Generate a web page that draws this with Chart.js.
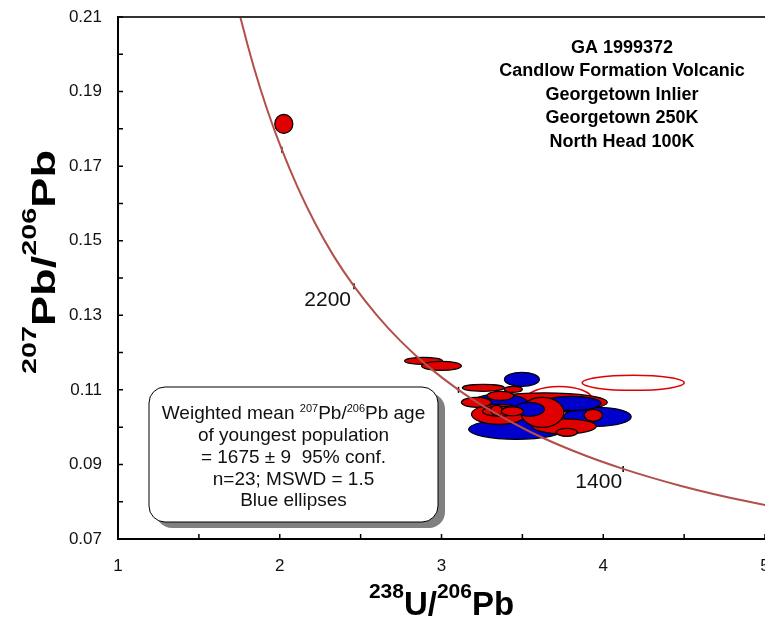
<!DOCTYPE html>
<html lang="en">
<head>
<meta charset="UTF-8">
<title>GA 1999372 Tera-Wasserburg plot</title>
<script src="https://cdn.jsdelivr.net/npm/chart.js"></script>
<style>
    body { margin: 0; background: #fff; }
    .wrap { width: 765px; height: 617px; position: relative; }
</style>
</head>
<body>
<div class="wrap"><canvas id="twChart"></canvas></div>
<script>
    // concordia curve, every 100 Ma (3000 Ma .. 1100 Ma)
    const concX = [1.687, 1.760, 1.838, 1.922, 2.013, 2.111, 2.217, 2.332, 2.459, 2.597,
                   2.749, 2.917, 3.105, 3.314, 3.550, 3.817, 4.123, 4.476, 4.888, 5.374];
    const concY = [0.2227, 0.2093, 0.1968, 0.1852, 0.1744, 0.1643, 0.1548, 0.1460, 0.1378, 0.1302,
                   0.1230, 0.1163, 0.1100, 0.1042, 0.0987, 0.0936, 0.0888, 0.0843, 0.0801, 0.0762];

    // age marks on the curve
    const markAge = [2600, 2200, 1800, 1400];
    const markX = [2.013, 2.459, 3.105, 4.123];
    const markY = [0.1744, 0.1378, 0.1100, 0.0888];

    // age labels
    const ageLabel = ['2200', '1400'];
    const ageLabelX = [2.296, 3.972];
    const ageLabelY = [0.1340, 0.0851];

    // error ellipses (centre, half-widths), in drawing order
    const ellGroup = ['open', 'open', 'blue', 'blue', 'red', 'blue', 'blue', 'red', 'red', 'red',
                      'red', 'blue', 'red', 'red', 'red', 'red', 'blue', 'red', 'red', 'red',
                      'red', 'red', 'red', 'red'];
    const ellX  = [3.728, 4.185, 3.463, 3.963, 3.636, 3.802, 3.358, 3.355, 3.759, 3.775,
                   3.623, 3.543, 3.938, 2.889, 3.000, 3.259, 3.497, 3.444, 3.364, 3.216,
                   3.358, 3.340, 3.438, 2.025];
    const ellY  = [0.10745, 0.11188, 0.09942, 0.10277, 0.10665, 0.10638, 0.10665, 0.10344, 0.10022, 0.09861,
                   0.10397, 0.10478, 0.10317, 0.11777, 0.11643, 0.11054, 0.11281, 0.11013, 0.10839, 0.10665,
                   0.10424, 0.10451, 0.10424, 0.18133];
    const ellSx = [0.204, 0.315, 0.296, 0.210, 0.389, 0.185, 0.173, 0.170, 0.198, 0.065,
                   0.133, 0.093, 0.056, 0.117, 0.123, 0.130, 0.108, 0.056, 0.083, 0.093,
                   0.105, 0.037, 0.068, 0.056];
    const ellSy = [0.00348, 0.00201, 0.00268, 0.00255, 0.00255, 0.00188, 0.00214, 0.00268, 0.00201, 0.00107,
                   0.00402, 0.00188, 0.00161, 0.00094, 0.00121, 0.00094, 0.00188, 0.00080, 0.00121, 0.00134,
                   0.00134, 0.00134, 0.00121, 0.00255];

    const infoLines = ['GA 1999372', 'Candlow Formation Volcanic', 'Georgetown Inlier',
                       'Georgetown 250K', 'North Head 100K'];
    const boxLines = ['of youngest population', '= 1675 \u00b1 9  95% conf.',
                      'n=23; MSWD = 1.5', 'Blue ellipses'];

    const FONT = '"Liberation Sans", Arial, sans-serif';

    // draws text with superscript pieces, centred on x
    function richText(ctx, parts, x, y, size, supSize, rise, weight) {
        let total = 0;
        parts.forEach(p => {
            ctx.font = weight + ' ' + (p.sup ? supSize : size) + 'px ' + FONT;
            p.w = ctx.measureText(p.t).width;
            total += p.w;
        });
        let cx = x - total / 2;
        parts.forEach(p => {
            ctx.font = weight + ' ' + (p.sup ? supSize : size) + 'px ' + FONT;
            ctx.fillText(p.t, cx, p.sup ? y - rise : y);
            cx += p.w;
        });
        return total;
    }

    function roundRect(ctx, x, y, w, h, r) {
        ctx.beginPath();
        ctx.moveTo(x + r, y);
        ctx.arcTo(x + w, y, x + w, y + h, r);
        ctx.arcTo(x + w, y + h, x, y + h, r);
        ctx.arcTo(x, y + h, x, y, r);
        ctx.arcTo(x, y, x + w, y, r);
        ctx.closePath();
    }

    const ellipsePlugin = {
        id: 'ellipses',
        beforeDatasetsDraw(chart) {
            const { ctx, scales: { x, y } } = chart;
            ctx.save();
            for (let i = 0; i < ellX.length; i++) {
                const cx = x.getPixelForValue(ellX[i]);
                const cy = y.getPixelForValue(ellY[i]);
                const rx = Math.abs(x.getPixelForValue(ellX[i] + ellSx[i]) - cx);
                const ry = Math.abs(y.getPixelForValue(ellY[i] + ellSy[i]) - cy);
                ctx.beginPath();
                ctx.ellipse(cx, cy, rx, ry, 0, 0, Math.PI * 2);
                if (ellGroup[i] === 'open') {
                    ctx.strokeStyle = '#e00000';
                    ctx.lineWidth = 1.5;
                    ctx.stroke();
                } else {
                    ctx.fillStyle = ellGroup[i] === 'blue' ? '#0000cc' : '#e00000';
                    ctx.fill();
                    ctx.strokeStyle = '#000';
                    ctx.lineWidth = 1.2;
                    ctx.stroke();
                }
            }
            ctx.restore();
        }
    };

    const annotationPlugin = {
        id: 'annotations',
        afterDatasetsDraw(chart) {
            const { ctx, scales: { x, y }, chartArea } = chart;
            ctx.save();
            ctx.fillStyle = '#111';
            ctx.textAlign = 'center';

            // age labels along the curve
            ctx.font = '21px ' + FONT;
            ctx.textBaseline = 'middle';
            ageLabel.forEach((t, i) => {
                ctx.fillText(t, x.getPixelForValue(ageLabelX[i]), y.getPixelForValue(ageLabelY[i]));
            });

            // sample info, top right
            ctx.textBaseline = 'alphabetic';
            ctx.font = 'bold 18px ' + FONT;
            ctx.fillStyle = '#000';
            infoLines.forEach((t, i) => ctx.fillText(t, 622, 52.5 + i * 23.5));

            // weighted mean box with shadow
            ctx.fillStyle = '#808080';
            roundRect(ctx, 156, 393, 289, 135, 16);
            ctx.fill();
            ctx.fillStyle = '#fff';
            roundRect(ctx, 149, 387, 289, 135, 16);
            ctx.fill();
            ctx.strokeStyle = '#000';
            ctx.lineWidth = 1;
            ctx.stroke();

            ctx.fillStyle = '#111';
            ctx.textAlign = 'left';
            richText(ctx, [{ t: 'Weighted mean ' }, { t: '207', sup: true }, { t: 'Pb/' },
                           { t: '206', sup: true }, { t: 'Pb age' }], 293.5, 418.5, 19, 11, 7, 'normal');
            ctx.textAlign = 'center';
            ctx.font = '19px ' + FONT;
            boxLines.forEach((t, i) => ctx.fillText(t, 293.5, 441 + i * 21.8));

            // top frame line
            ctx.strokeStyle = '#333';
            ctx.lineWidth = 2;
            ctx.beginPath();
            ctx.moveTo(chartArea.left, chartArea.top);
            ctx.lineTo(chartArea.right, chartArea.top);
            ctx.stroke();
            ctx.restore();
        },
        afterDraw(chart) {
            const { ctx, scales: { x, y }, chartArea } = chart;
            ctx.save();
            // inward tick marks
            ctx.strokeStyle = '#000';
            ctx.lineWidth = 1.5;
            ctx.beginPath();
            y.ticks.forEach(t => {
                const py = y.getPixelForValue(t.value);
                ctx.moveTo(chartArea.left, py);
                ctx.lineTo(chartArea.left + 5, py);
            });
            x.ticks.forEach(t => {
                const px = x.getPixelForValue(t.value);
                ctx.moveTo(px, chartArea.bottom);
                ctx.lineTo(px, chartArea.bottom - 5);
            });
            ctx.stroke();

            // axis titles
            ctx.fillStyle = '#000';
            ctx.textAlign = 'left';
            ctx.textBaseline = 'alphabetic';
            richText(ctx, [{ t: '238', sup: true }, { t: 'U/' }, { t: '206', sup: true }, { t: 'Pb' }],
                     (chartArea.left + chartArea.right) / 2, 615, 33, 21, 17, 'bold');

            ctx.translate(55, 262);
            ctx.rotate(-Math.PI / 2);
            ctx.scale(1.37, 1);
            richText(ctx, [{ t: '207', sup: true }, { t: 'Pb/' }, { t: '206', sup: true }, { t: 'Pb' }],
                     0, 0, 33, 21, 19, 'bold');
            ctx.restore();
        }
    };

    const curveData = concX.map((v, i) => ({ x: v, y: concY[i] }));
    const markData = markX.map((v, i) => ({ x: v, y: markY[i], age: markAge[i] }));

    const ctx = document.getElementById('twChart').getContext('2d');
    const twChart = new Chart(ctx, {
        type: 'scatter',
        data: {
            datasets: [{
                label: 'Concordia',
                data: curveData,
                showLine: true,
                pointRadius: 0,
                borderColor: '#b24f4b',
                borderWidth: 2,
                cubicInterpolationMode: 'monotone'
            }, {
                label: 'Age marks',
                data: markData,
                pointStyle: 'line',
                rotation: 90,
                pointRadius: 3,
                borderColor: '#000',
                borderWidth: 1.5
            }]
        },
        options: {
            responsive: true,
            maintainAspectRatio: false,
            animation: false,
            layout: { autoPadding: false, padding: { top: 17, right: 0, bottom: 0, left: 0 } },
            plugins: {
                legend: { display: false },
                tooltip: { enabled: false }
            },
            scales: {
                x: {
                    type: 'linear',
                    min: 1,
                    max: 5,
                    ticks: {
                        stepSize: 0.5,
                        autoSkip: false,
                        maxRotation: 0,
                        padding: 17,
                        color: '#111',
                        font: { family: FONT, size: 17 },
                        callback: v => Number.isInteger(v) ? String(v) : ''
                    },
                    grid: { display: true, drawOnChartArea: false, drawTicks: false },
                    border: { display: true, color: '#000', width: 2 },
                    afterFit: s => { s.height = 78; s.paddingLeft = 0; s.paddingRight = 0; }
                },
                y: {
                    type: 'linear',
                    min: 0.07,
                    max: 0.21,
                    ticks: {
                        stepSize: 0.01,
                        autoSkip: false,
                        padding: 16,
                        color: '#111',
                        font: { family: FONT, size: 17 },
                        callback: v => Math.round(v * 100) % 2 === 1 ? v.toFixed(2) : ''
                    },
                    grid: { display: true, drawOnChartArea: false, drawTicks: false },
                    border: { display: true, color: '#000', width: 2 },
                    afterFit: s => { s.width = 118; s.paddingTop = 0; s.paddingBottom = 0; }
                }
            }
        },
        plugins: [ellipsePlugin, annotationPlugin]
    });
</script>
</body>
</html>
